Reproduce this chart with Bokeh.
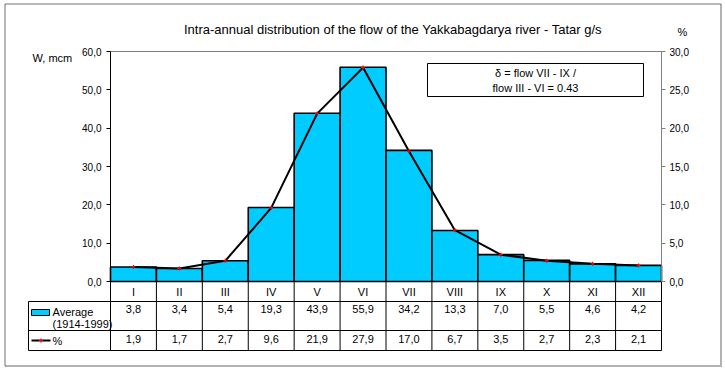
from bokeh.plotting import figure
from bokeh.models import (Range1d, LinearAxis, FixedTicker, CustomJSTickFormatter,
                          BoxAnnotation, Label)
from bokeh.core.properties import value
from bokeh.embed import file_html
from bokeh.resources import INLINE

# ---------------- data ----------------
months = ["I", "II", "III", "IV", "V", "VI", "VII", "VIII", "IX", "X", "XI", "XII"]
avg_flow = [3.8, 3.4, 5.4, 19.3, 43.9, 55.9, 34.2, 13.3, 7.0, 5.5, 4.6, 4.2]
pct_flow = [1.9, 1.7, 2.7, 9.6, 21.9, 27.9, 17.0, 6.7, 3.5, 2.7, 2.3, 2.1]
left_ticks = [0, 10, 20, 30, 40, 50, 60]
right_ticks = [0, 5, 10, 15, 20, 25, 30]
title_text = "Intra-annual distribution of the flow of the Yakkabagdarya river - Tatar g/s"
left_axis_title = "W, mcm"
right_axis_title = "%"
series_avg = ["Average", "(1914-1999)"]
series_pct = "%"
note_lines = ["\u03b4 = flow VII - IX /", "flow III - VI = 0.43"]

# ---------------- layout helpers (page pixels -> data) ----------------
W, H = 725, 368
PX_M = 551 / 12.0      # pixels per month
PX_U = 230 / 60.0      # pixels per left-axis unit
X0, Y0 = 110, 281      # page position of (0, 0)


def dx(px):
    return (px - X0) / PX_M


def dy(py):
    return (Y0 - py) / PX_U


FONT = "Liberation Sans"
CYAN = "#00CCFF"

p = figure(width=W, height=H,
           x_range=Range1d(dx(0), dx(W)), y_range=Range1d(dy(H), dy(0)),
           output_backend="svg", toolbar_location=None,
           x_axis_location=None, y_axis_location=None,
           min_border_left=0, min_border_right=0,
           min_border_top=0, min_border_bottom=0,
           outline_line_color=None, background_fill_color="white",
           border_fill_color="white")
p.extra_y_ranges = {"pct": Range1d(dy(H) / 2, dy(0) / 2)}
p.grid.visible = False

# chart border
p.add_layout(BoxAnnotation(left=dx(4.5), right=dx(720), top=dy(3.5), bottom=dy(365),
                           fill_alpha=0, line_color="black", line_width=1))
p.add_layout(BoxAnnotation(left=dx(4.5), right=dx(721), top=dy(3.5), bottom=dy(366),
                           fill_alpha=0, line_color="black", line_width=1))

fmt = CustomJSTickFormatter(code="return tick.toFixed(1).replace('.', ',')")

yl = LinearAxis(fixed_location=0, ticker=FixedTicker(ticks=left_ticks), formatter=fmt,
                bounds=(dy(350), 60),
                axis_line_color="black", axis_line_width=1,
                major_tick_line_color="black", major_tick_out=4, major_tick_in=0,
                minor_tick_line_color=None,
                major_label_text_font=FONT, major_label_text_font_size="10px",
                major_label_text_color="black", major_label_standoff=5)
p.add_layout(yl, "left")

yr = LinearAxis(y_range_name="pct", fixed_location=12,
                ticker=FixedTicker(ticks=right_ticks), formatter=fmt,
                bounds=(0, 30),
                axis_line_color="#808080", axis_line_width=1,
                major_tick_line_color="#808080", major_tick_out=4, major_tick_in=0,
                minor_tick_line_color=None,
                major_label_text_font=FONT, major_label_text_font_size="10px",
                major_label_text_color="black", major_label_standoff=4)
p.add_layout(yr, "right")

n = len(months)
centers = [i + 0.5 for i in range(n)]

# plot-area top border
p.segment(x0=[0], y0=[left_ticks[-1]], x1=[n], y1=[left_ticks[-1]],
          line_color="#808080", line_width=1)

# bars
p.vbar(x=centers, width=1, top=avg_flow, bottom=0,
       fill_color=CYAN, line_color="black", line_width=1.6)

# percent line
p.line(centers, pct_flow, y_range_name="pct", line_color="black", line_width=2)
p.scatter(centers, pct_flow, y_range_name="pct", marker="cross", size=4,
          line_color="red", line_width=1.2)

# ---------------- data table ----------------
row_y = [dy(281), dy(301), dy(330), dy(350)]
leg_x = dx(28)
hx0 = [0, leg_x, leg_x, leg_x]
hx1 = [n, n, n, n]
p.segment(x0=hx0, y0=row_y, x1=hx1, y1=row_y, line_color="black", line_width=1)
vx = list(range(n + 1))
p.segment(x0=vx, y0=[row_y[0]] * len(vx), x1=vx, y1=[row_y[3]] * len(vx),
          line_color="black", line_width=1)
p.segment(x0=[leg_x], y0=[row_y[1]], x1=[leg_x], y1=[row_y[3]],
          line_color="black", line_width=1)

txt_kw = dict(text_font=value(FONT), text_font_size=value("11px"), text_color="black",
              text_align="center", text_baseline="middle")
p.text(x=centers, y=[dy(291)] * n, text=months, **txt_kw)
p.text(x=centers, y=[dy(308)] * n,
       text=[f"{v:.1f}".replace(".", ",") for v in avg_flow], **txt_kw)
p.text(x=centers, y=[dy(338)] * n,
       text=[f"{v:.1f}".replace(".", ",") for v in pct_flow], **txt_kw)

# legend cells
p.quad(left=[dx(31)], right=[dx(49)], top=[dy(309)], bottom=[dy(315)],
       fill_color=CYAN, line_color="black", line_width=1)
lk = dict(text_font=value(FONT), text_font_size=value("11px"), text_color="black",
          text_align="left", text_baseline="middle")
p.text(x=[dx(52), dx(52)], y=[dy(311.5), dy(323.5)], text=series_avg, **lk)
p.segment(x0=[dx(31)], y0=[dy(340)], x1=[dx(50)], y1=[dy(340)],
          line_color="black", line_width=2)
p.scatter([dx(40.5)], [dy(340)], marker="cross", size=4, line_color="red", line_width=1.2)
p.text(x=[dx(52)], y=[dy(340)], text=[series_pct], **lk)

# ---------------- annotations ----------------
p.add_layout(BoxAnnotation(left=dx(427), right=dx(643), top=dy(63), bottom=dy(96),
                           fill_color="white", fill_alpha=1, line_color="black",
                           line_width=1, line_alpha=1))
for t, yy in zip(note_lines, [72, 87.5]):
    p.add_layout(Label(x=dx(535), y=dy(yy), text=t, text_font=FONT,
                       text_font_size="11px", text_align="center",
                       text_baseline="middle", text_color="black"))

p.add_layout(Label(x=dx(392.5), y=dy(29), text=title_text, text_font=FONT,
                   text_font_size="13px", text_align="center", text_baseline="middle",
                   text_color="black"))
p.add_layout(Label(x=dx(32), y=dy(57.5), text=left_axis_title, text_font=FONT,
                   text_font_size="11px", text_align="left", text_baseline="middle",
                   text_color="black"))
p.add_layout(Label(x=dx(677), y=dy(31.5), text=right_axis_title, text_font=FONT,
                   text_font_size="11px", text_align="left", text_baseline="middle",
                   text_color="black"))

open("out.html", "w").write(file_html(p, INLINE))
